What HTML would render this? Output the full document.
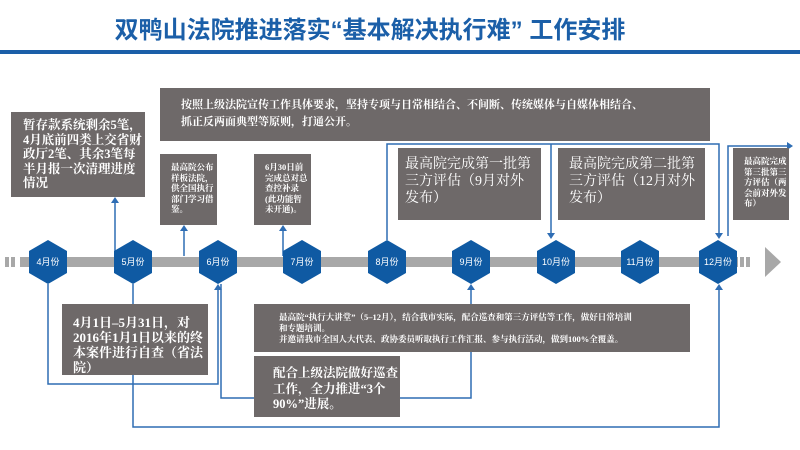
<!DOCTYPE html>
<html><head><meta charset="utf-8">
<style>
body{margin:0;width:800px;height:450px;background:#fff;position:relative;overflow:hidden;font-family:"Liberation Serif","Noto Serif CJK SC",serif}
.b{position:absolute;background:#6e6969;color:#fff;box-sizing:border-box;font-weight:bold}
.t{position:absolute;width:800px;text-align:center;top:10px;font:bold 24px "Liberation Sans","Noto Sans CJK SC",sans-serif;color:#1b5fa8}
svg{position:absolute;left:0;top:0}
.hx{font:9px "Liberation Sans","Noto Sans CJK SC",sans-serif;fill:#fff}
</style></head><body>
<div class="t" style="left:-30px;letter-spacing:0px;font-size:24px">双鸭山法院推进落实“基本解决执行难” 工作安排</div>
<svg width="800" height="450">
<rect x="0" y="50" width="800" height="4" fill="#1b5fa8"/>
<rect x="5" y="257" width="4" height="10" fill="#a8a8a8"/>
<rect x="11" y="257" width="4" height="10" fill="#a8a8a8"/>
<rect x="20" y="257" width="718" height="10" fill="#a8a8a8"/>
<rect x="740" y="257" width="4" height="10" fill="#a8a8a8"/>
<rect x="746" y="257" width="4" height="10" fill="#a8a8a8"/>
<polygon points="765,247 781,262 765,277" fill="#a8a8a8"/>
<g fill="none" stroke="#2e6db4" stroke-width="1.5">
<polyline points="115,255 115,199"/>
<polyline points="184,256 184,227"/>
<polyline points="283,256 283,227"/>
<polyline points="387,240 387,144 719,144 719,236"/>
<polyline points="551,144 551,236"/>
<polyline points="728,236 728,146 790,146"/>
<polyline points="48,284 48,384 218,384 218,286"/>
<polyline points="133,284 133,304"/>
<polyline points="133,375 133,427 719,427 719,286"/>
<polyline points="221,284 221,398 471,398 471,286"/>
</g>
<g fill="#2e6db4">
<polygon points="115,197 111,203 119,203"/>
<polygon points="184,225 180,231 188,231"/>
<polygon points="283,225 279,231 287,231"/>
<polygon points="719,239 715,233 723,233"/>
<polygon points="551,239 547,233 555,233"/>
<polygon points="793,146 787,142 787,150"/>
<polygon points="218,284 214,290 222,290"/>
<polygon points="719,284 715,290 723,290"/>
<polygon points="471,284 467,290 475,290"/>
</g>
<g fill="#0f5aa3">
<polygon points="48,240 67,251 67,273 48,284 29,273 29,251"/>
<polygon points="133,240 152,251 152,273 133,284 114,273 114,251"/>
<polygon points="218,240 237,251 237,273 218,284 199,273 199,251"/>
<polygon points="302,240 321,251 321,273 302,284 283,273 283,251"/>
<polygon points="387,240 406,251 406,273 387,284 368,273 368,251"/>
<polygon points="471,240 490,251 490,273 471,284 452,273 452,251"/>
<polygon points="556,240 575,251 575,273 556,284 537,273 537,251"/>
<polygon points="640,240 659,251 659,273 640,284 621,273 621,251"/>
<polygon points="718,240 737,251 737,273 718,284 699,273 699,251"/>
</g>
<g class="hx" text-anchor="middle">
<text x="48" y="265">4月份</text><text x="133" y="265">5月份</text><text x="218" y="265">6月份</text>
<text x="302" y="265">7月份</text><text x="387" y="265">8月份</text><text x="471" y="265">9月份</text>
<text x="556" y="265">10月份</text><text x="640" y="265">11月份</text><text x="718" y="265">12月份</text>
</g>
</svg>
<div class="b" style="left:11px;top:112px;width:134px;height:85px;padding:6px 0 0 12px;font-size:12.5px;line-height:14.5px">暂存款系统剩余5笔，4月底前四类上交省财政厅2笔、其余3笔每半月报一次清理进度情况</div>
<div class="b" style="left:160px;top:88px;width:550px;height:53px;padding:9px 0 0 21px;font-size:11px;line-height:17px">按照上级法院宣传工作具体要求，坚持专项与日常相结合、不间断、传统媒体与自媒体相结合、<br>抓正反两面典型等原则，打通公开。</div>
<div class="b" style="left:160px;top:154px;width:57px;height:71px;padding:8px 0 0 11px;font-size:8.5px;line-height:10.5px;padding-right:2px">最高院公布样板法院，供全国执行部门学习借鉴。</div>
<div class="b" style="left:254px;top:154px;width:57px;height:71px;padding:8px 0 0 11px;font-size:8.5px;line-height:10.5px;padding-right:2px">6月30日前完成总对总查控补录(此功能暂未开通)。</div>
<div class="b" style="left:398px;top:148px;width:143px;height:72px;padding:8px 4px 0 7px;font-size:14px;line-height:17px;font-weight:normal">最高院完成第一批第三方评估（9月对外发布）</div>
<div class="b" style="left:558px;top:148px;width:147px;height:72px;padding:8px 4px 0 11px;font-size:14px;line-height:17px;font-weight:normal">最高院完成第二批第三方评估（12月对外发布）</div>
<div class="b" style="left:733px;top:148px;width:56px;height:72px;padding:8px 2px 0 11px;font-size:8.5px;line-height:10.5px">最高院完成第三批第三方评估（两会前对外发布）</div>
<div class="b" style="left:62px;top:304px;width:146px;height:71px;padding:11px 2px 0 11px;font-size:13px;line-height:15px">4月1日–5月31日，对2016年1月1日以来的终本案件进行自查（省法院）</div>
<div class="b" style="left:254px;top:304px;width:436px;height:48px;padding:8px 0 0 25px;font-size:8.5px;line-height:11px">最高院“执行大讲堂”（5–12月），结合我市实际，配合巡查和第三方评估等工作，做好日常培训<br>和专题培训。<br>并邀请我市全国人大代表、政协委员听取执行工作汇报、参与执行活动，做到100%全覆盖。</div>
<div class="b" style="left:254px;top:356px;width:146px;height:61px;padding:10px 2px 0 19px;font-size:12.5px;line-height:15.5px">配合上级法院做好巡查工作，全力推进“3个90%”进展。</div>
</body></html>
